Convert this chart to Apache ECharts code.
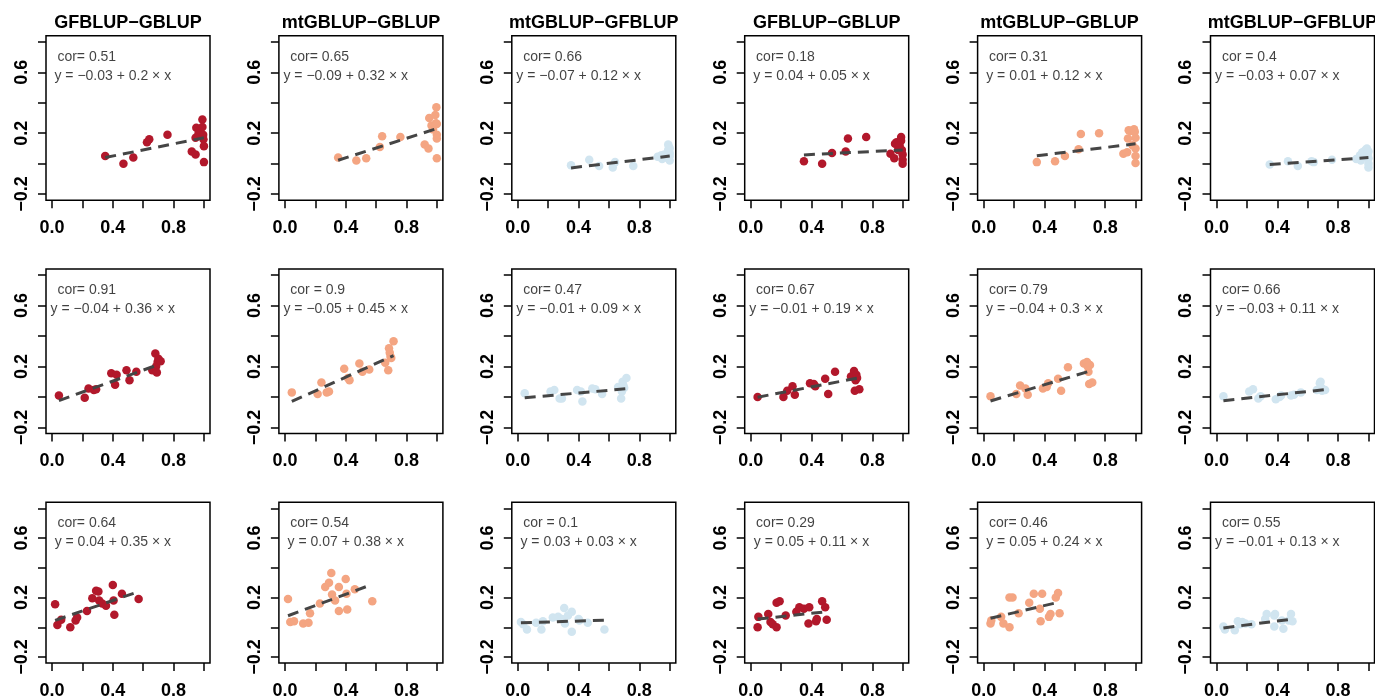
<!DOCTYPE html>
<html>
<head>
<meta charset="utf-8">
<script src="https://cdn.jsdelivr.net/npm/echarts@6/dist/echarts.min.js"></script>
<style>
html, body { margin: 0; padding: 0; background: #fff; }
#main { width: 1375px; height: 700px; }
</style>
</head>
<body>
<div id="main"></div>
<script>
// column titles (top row only)
var colTitles = ['GFBLUP−GBLUP', 'mtGBLUP−GBLUP', 'mtGBLUP−GFBLUP', 'GFBLUP−GBLUP', 'mtGBLUP−GBLUP', 'mtGBLUP−GFBLUP'];
var colColors = ['#B2182B', '#F4A582', '#D1E5F0', '#B2182B', '#F4A582', '#D1E5F0'];

// axis ticks / labels
var xTicks = [0, 0.2, 0.4, 0.6, 0.8, 1.0];
var xLabelTicks = [0, 0.4, 0.8];
var yTicks = [-0.2, 0, 0.2, 0.4, 0.6, 0.8];
var yLabelTicks = [-0.2, 0.2, 0.6];

// text in each panel, row by row
var corTexts = [
    'cor= 0.51', 'cor= 0.65', 'cor= 0.66', 'cor= 0.18', 'cor= 0.31', 'cor = 0.4',
    'cor= 0.91', 'cor = 0.9', 'cor= 0.47', 'cor= 0.67', 'cor= 0.79', 'cor= 0.66',
    'cor= 0.64', 'cor= 0.54', 'cor = 0.1', 'cor= 0.29', 'cor= 0.46', 'cor= 0.55'
];
var intercepts = [
    -0.03, -0.09, -0.07, 0.04, 0.01, -0.03,
    -0.04, -0.05, -0.01, -0.01, -0.04, -0.03,
    0.04, 0.07, 0.03, 0.05, 0.05, -0.01
];
var slopes = [
    0.2, 0.32, 0.12, 0.05, 0.12, 0.07,
    0.36, 0.45, 0.09, 0.19, 0.3, 0.11,
    0.35, 0.38, 0.03, 0.11, 0.24, 0.13
];

// points [x, y] of each panel
var r1c1 = [[0.35,0.05],[0.47,0.0],[0.535,0.04],[0.625,0.14],[0.64,0.16],[0.76,0.19],[0.92,0.08],[0.945,0.06],[0.95,0.235],[0.945,0.17],[0.965,0.2],[0.975,0.22],[0.99,0.29],[0.99,0.24],[0.995,0.19],[0.997,0.16],[1.0,0.115],[1.0,0.01]];
var r1c2 = [[0.35,0.04],[0.47,0.02],[0.535,0.035],[0.625,0.11],[0.64,0.18],[0.76,0.175],[0.92,0.125],[0.945,0.1],[0.95,0.3],[0.965,0.25],[0.975,0.225],[0.99,0.32],[0.995,0.265],[0.997,0.37],[1.0,0.26],[1.0,0.19],[1.0,0.165],[1.0,0.035]];
var r1c3 = [[0.35,-0.01],[0.47,0.025],[0.535,-0.015],[0.625,-0.025],[0.64,0.01],[0.76,-0.015],[0.92,0.045],[0.945,0.055],[0.95,0.03],[0.965,0.06],[0.975,0.04],[0.99,0.125],[0.99,0.09],[0.995,0.11],[1.0,0.07],[1.0,0.05],[1.0,0.02],[1.0,0.1]];
var r1c4 = [[0.35,0.015],[0.47,0.0],[0.535,0.07],[0.625,0.08],[0.64,0.165],[0.76,0.175],[0.92,0.065],[0.945,0.035],[0.95,0.13],[0.96,0.14],[0.97,0.09],[0.98,0.12],[0.99,0.175],[0.99,0.15],[0.995,0.09],[1.0,0.06],[1.0,0.025],[1.0,0.0]];
var r1c5 = [[0.35,0.01],[0.47,0.015],[0.535,0.05],[0.625,0.095],[0.64,0.195],[0.76,0.2],[0.92,0.065],[0.945,0.075],[0.95,0.165],[0.955,0.22],[0.965,0.215],[0.98,0.12],[0.99,0.225],[0.995,0.21],[1.0,0.17],[1.0,0.1],[1.0,0.05],[1.0,0.005]];
var r1c6 = [[0.35,-0.005],[0.47,0.015],[0.535,-0.015],[0.625,0.015],[0.64,0.01],[0.76,0.025],[0.92,0.03],[0.945,0.055],[0.95,0.02],[0.96,0.075],[0.975,0.045],[0.98,0.09],[0.99,0.1],[0.995,0.06],[1.0,0.035],[1.0,0.08],[1.0,0.0],[1.0,-0.025]];

var r2c1 = [[0.045,0.01],[0.215,-0.005],[0.24,0.055],[0.275,0.045],[0.29,0.05],[0.39,0.155],[0.415,0.08],[0.425,0.145],[0.49,0.175],[0.51,0.11],[0.555,0.165],[0.66,0.175],[0.68,0.285],[0.685,0.2],[0.69,0.16],[0.695,0.23],[0.70,0.25],[0.715,0.235]];
var r2c2 = [[0.045,0.03],[0.215,0.02],[0.24,0.095],[0.275,0.03],[0.29,0.035],[0.39,0.185],[0.415,0.125],[0.425,0.11],[0.49,0.22],[0.51,0.165],[0.555,0.18],[0.66,0.225],[0.68,0.175],[0.685,0.32],[0.69,0.29],[0.695,0.265],[0.70,0.255],[0.715,0.365]];
var r2c3 = [[0.045,0.025],[0.215,0.035],[0.24,0.045],[0.275,-0.01],[0.29,-0.01],[0.39,0.045],[0.415,0.035],[0.425,-0.03],[0.49,0.055],[0.51,0.05],[0.555,0.02],[0.66,0.065],[0.68,-0.01],[0.685,0.035],[0.69,0.1],[0.695,0.075],[0.70,0.06],[0.715,0.125]];
var r2c4 = [[0.045,0.0],[0.215,0.0],[0.24,0.04],[0.275,0.07],[0.29,0.015],[0.39,0.09],[0.415,0.085],[0.425,0.07],[0.49,0.12],[0.51,0.02],[0.555,0.165],[0.66,0.135],[0.68,0.17],[0.685,0.04],[0.69,0.11],[0.695,0.145],[0.70,0.125],[0.715,0.05]];
var r2c5 = [[0.045,0.005],[0.215,0.02],[0.24,0.075],[0.275,0.055],[0.29,0.015],[0.39,0.055],[0.415,0.065],[0.425,0.09],[0.49,0.12],[0.51,0.04],[0.555,0.195],[0.66,0.22],[0.68,0.23],[0.685,0.2],[0.69,0.165],[0.695,0.085],[0.70,0.21],[0.715,0.095]];
var r2c6 = [[0.045,0.005],[0.215,0.035],[0.24,0.05],[0.275,-0.01],[0.29,0.005],[0.39,-0.015],[0.415,0.0],[0.425,0.01],[0.49,0.01],[0.51,0.015],[0.555,0.03],[0.66,0.045],[0.68,0.09],[0.685,0.1],[0.69,0.06],[0.695,0.04],[0.70,0.05],[0.715,0.045]];

var r3c1 = [[0.02,0.155],[0.035,0.015],[0.06,0.05],[0.12,0.0],[0.155,0.045],[0.165,0.065],[0.23,0.11],[0.265,0.195],[0.29,0.245],[0.305,0.24],[0.31,0.18],[0.33,0.16],[0.355,0.145],[0.40,0.285],[0.405,0.18],[0.41,0.085],[0.46,0.225],[0.57,0.19]];
var r3c2 = [[0.02,0.19],[0.035,0.035],[0.06,0.04],[0.12,0.025],[0.155,0.03],[0.165,0.095],[0.23,0.16],[0.265,0.27],[0.29,0.3],[0.305,0.365],[0.31,0.22],[0.33,0.18],[0.355,0.27],[0.355,0.11],[0.40,0.325],[0.405,0.225],[0.41,0.12],[0.46,0.255],[0.575,0.175]];
var r3c3 = [[0.02,0.035],[0.035,0.02],[0.06,-0.015],[0.12,0.03],[0.155,-0.015],[0.165,0.04],[0.23,0.065],[0.265,0.07],[0.29,0.055],[0.305,0.13],[0.31,0.025],[0.33,0.08],[0.355,0.105],[0.355,-0.03],[0.40,0.055],[0.405,0.045],[0.46,0.03],[0.57,-0.015]];
var r3c4 = [[0.045,0.0],[0.05,0.07],[0.115,0.09],[0.13,0.035],[0.145,0.02],[0.17,0.0],[0.17,0.165],[0.19,0.175],[0.23,0.08],[0.3,0.105],[0.32,0.135],[0.35,0.125],[0.38,0.025],[0.385,0.135],[0.43,0.04],[0.435,0.055],[0.47,0.175],[0.49,0.135],[0.5,0.05]];
var r3c5 = [[0.045,0.025],[0.05,0.045],[0.115,0.07],[0.13,0.025],[0.17,0.0],[0.17,0.2],[0.19,0.2],[0.23,0.095],[0.3,0.165],[0.33,0.225],[0.37,0.125],[0.375,0.04],[0.385,0.225],[0.43,0.07],[0.44,0.09],[0.475,0.2],[0.49,0.23],[0.5,0.095]];
var r3c6 = [[0.045,0.005],[0.055,-0.015],[0.12,-0.02],[0.14,0.04],[0.155,0.02],[0.17,0.035],[0.19,0.025],[0.23,0.02],[0.32,0.055],[0.33,0.09],[0.38,0.08],[0.385,0.09],[0.38,0.005],[0.44,-0.01],[0.43,0.045],[0.475,0.045],[0.49,0.09],[0.5,0.04]];

var panels = [r1c1, r1c2, r1c3, r1c4, r1c5, r1c6,
              r2c1, r2c2, r2c3, r2c4, r2c5, r2c6,
              r3c1, r3c2, r3c3, r3c4, r3c5, r3c6];

var FONT = '"Liberation Sans", Arial, Helvetica, sans-serif';

// 数字格式：负号用 "−"
function fmtNum(v, d) {
    var s = d === undefined ? String(Math.abs(v)) : Math.abs(v).toFixed(d);
    return (v < 0 ? '−' : '') + s;
}

var chart = echarts.init(document.getElementById('main'));

var grids = [], xAxes = [], yAxes = [], series = [], graphics = [];
var boxW = 164, boxH = 164.5, pitchX = 232.9, pitchY = 233.3, left0 = 46, top0 = 35.7;

for (var i = 0; i < panels.length; i++) {
    var r = Math.floor(i / 6), c = i % 6;
    var gl = left0 + c * pitchX, gt = top0 + r * pitchY;
    grids.push({
        left: gl, top: gt, width: boxW, height: boxH,
        show: true, borderColor: '#000', borderWidth: 1.5, backgroundColor: 'transparent'
    });
    xAxes.push({
        type: 'value', gridIndex: i, min: -0.04, max: 1.04, position: 'bottom',
        axisLine: { show: false, onZero: false },
        splitLine: { show: false },
        axisTick: { show: true, customValues: xTicks, length: 8, inside: false, lineStyle: { color: '#000', width: 1.5 } },
        axisLabel: {
            show: true, customValues: xLabelTicks, margin: 19,
            color: '#000', fontSize: 18, fontWeight: 'bold', fontFamily: FONT,
            formatter: function (v) { return fmtNum(v, 1); }
        }
    });
    yAxes.push({
        type: 'value', gridIndex: i, min: -0.24, max: 0.84, position: 'left',
        axisLine: { show: false, onZero: false },
        splitLine: { show: false },
        axisTick: { show: true, customValues: yTicks, length: 8, inside: false, lineStyle: { color: '#000', width: 1.5 } },
        axisLabel: {
            show: true, customValues: yLabelTicks, margin: 15, rotate: 90,
            color: '#000', fontSize: 18, fontWeight: 'bold', fontFamily: FONT,
            formatter: function (v) { return fmtNum(v, 1); }
        }
    });

    var pts = panels[i];
    var xs = pts.map(function (p) { return p[0]; });
    var xmin = Math.min.apply(null, xs), xmax = Math.max.apply(null, xs);
    var a = intercepts[i], b = slopes[i];

    // 散点
    series.push({
        type: 'scatter', xAxisIndex: i, yAxisIndex: i,
        data: pts, symbolSize: 8.5,
        itemStyle: { color: colColors[c], opacity: 1 },
        silent: true
    });
    // 回归虚线
    series.push({
        type: 'line', xAxisIndex: i, yAxisIndex: i,
        data: [[xmin, a + b * xmin], [xmax, a + b * xmax]],
        showSymbol: false, symbol: 'none',
        lineStyle: { color: '#454545', width: 3, type: [11, 7], cap: 'butt' },
        silent: true
    });
    // 文字标注
    var eq = 'y = ' + fmtNum(a) + ' + ' + fmtNum(b) + ' × x';
    series.push({
        type: 'scatter', xAxisIndex: i, yAxisIndex: i,
        symbolSize: 0, silent: true,
        label: {
            show: true, color: '#111', fontSize: 14, fontFamily: FONT,
            formatter: function (p) { return p.data.txt; }
        },
        data: [
            { value: [0.035, 0.7], txt: corTexts[i], label: { position: 'right', distance: 0 } },
            { value: [0.4, 0.575], txt: eq, label: { position: 'inside' } }
        ]
    });

    if (r === 0) {
        graphics.push({
            type: 'text', x: gl + boxW / 2, y: 23,
            style: {
                text: colTitles[c], fill: '#000', font: 'bold 18px ' + FONT,
                textAlign: 'center', textVerticalAlign: 'middle'
            }
        });
    }
}

chart.setOption({
    animation: false,
    backgroundColor: '#fff',
    grid: grids,
    xAxis: xAxes,
    yAxis: yAxes,
    series: series,
    graphic: graphics
});
</script>
</body>
</html>
